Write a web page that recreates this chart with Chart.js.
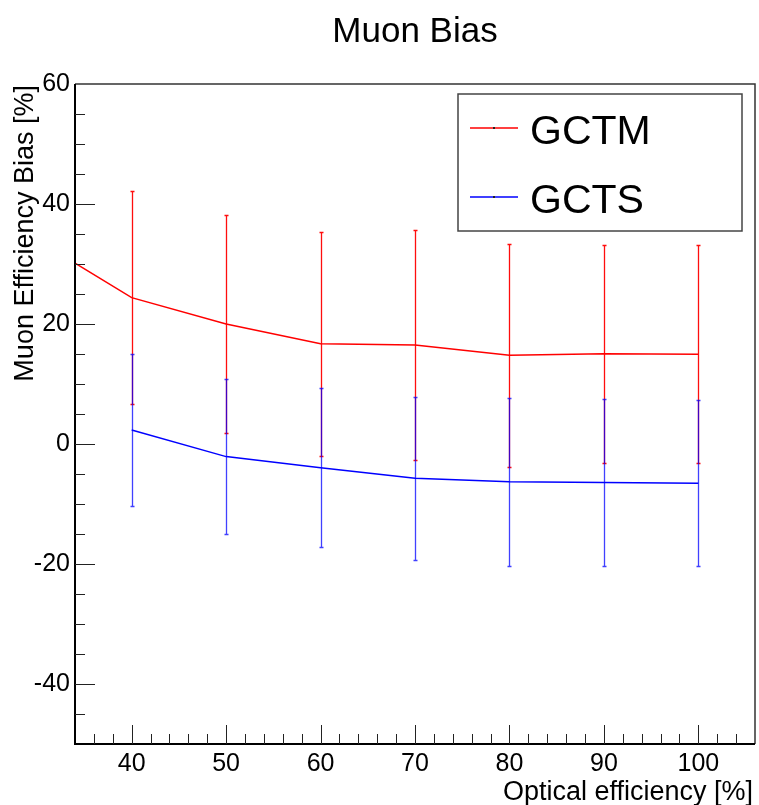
<!DOCTYPE html>
<html lang="en">
<head>
<meta charset="UTF-8">
<title>Muon Bias</title>
<script src="https://cdn.jsdelivr.net/npm/chart.js@4"></script>
<style>
  html, body { margin: 0; padding: 0; background: #fff; }
  canvas { display: block; }
</style>
</head>
<body>
<canvas id="biasChart" width="759" height="805"></canvas>
<script>
// values (bias in %, symmetric errors)
const gctmEff  = [30, 40, 50, 60, 70, 80, 90, 100];
const gctmBias = [34.0, 24.4, 20.0, 16.7, 16.5, 14.8, 15.05, 14.95];
const gctmErr  = [18.0, 17.8, 18.1, 18.7, 19.1, 18.6, 18.2, 18.15];

const gctsEff  = [40, 50, 60, 70, 80, 90, 100];
const gctsBias = [2.33, -2.1, -3.94, -5.7, -6.3, -6.4, -6.55];
const gctsErr  = [12.7, 12.9, 13.3, 13.6, 14.0, 13.9, 13.85];

const xTicks = [40, 50, 60, 70, 80, 90, 100];
const yTicks = [-40, -20, 0, 20, 40, 60];

const FONT = '"Liberation Sans", Arial, Helvetica, sans-serif';

function points(xs, ys, errs) {
    return xs.map((x, i) => ({ x: x, y: ys[i], err: errs[i] }));
}

// ROOT-like frame, inward ticks, error bars, titles and legend box
const rootStyle = {
    id: 'rootStyle',
    beforeDatasetsDraw(chart) {
        const ctx = chart.ctx;
        const a = chart.chartArea;
        const xs = chart.scales.x, ys = chart.scales.y;
        ctx.save();
        ctx.beginPath();
        ctx.rect(a.left, a.top, a.right - a.left, a.bottom - a.top);
        ctx.clip();
        chart.data.datasets.forEach(ds => {
            ctx.strokeStyle = ds.errColor;
            ctx.lineWidth = 1.3;
            ds.data.forEach(p => {
                const px = Math.round(xs.getPixelForValue(p.x)) + 0.5;
                const y1 = Math.round(ys.getPixelForValue(p.y + p.err)) + 0.5;
                const y2 = Math.round(ys.getPixelForValue(p.y - p.err)) + 0.5;
                ctx.beginPath();
                ctx.moveTo(px, y1); ctx.lineTo(px, y2);
                ctx.moveTo(px - 2, y1); ctx.lineTo(px + 2, y1);
                ctx.moveTo(px - 2, y2); ctx.lineTo(px + 2, y2);
                ctx.stroke();
            });
        });
        ctx.restore();
    },
    afterDraw(chart) {
        const ctx = chart.ctx;
        const a = chart.chartArea;
        const xs = chart.scales.x, ys = chart.scales.y;
        ctx.save();

        // frame
        ctx.strokeStyle = '#333';
        ctx.lineWidth = 1.5;
        ctx.beginPath();
        ctx.moveTo(a.left, a.top); ctx.lineTo(a.right, a.top); ctx.lineTo(a.right, a.bottom);
        ctx.stroke();
        ctx.strokeStyle = '#000';
        ctx.lineWidth = 2;
        ctx.beginPath();
        ctx.moveTo(a.left, a.top); ctx.lineTo(a.left, a.bottom); ctx.lineTo(a.right, a.bottom);
        ctx.stroke();

        // inward ticks
        ctx.lineWidth = 1;
        ctx.strokeStyle = '#222';
        ctx.beginPath();
        for (let v = 36; v < 106; v += 2) {
            const px = Math.round(xs.getPixelForValue(v)) + 0.5;
            ctx.moveTo(px, a.bottom);
            ctx.lineTo(px, a.bottom - (v % 10 === 0 ? 19 : 10));
        }
        for (let v = -45; v < 60; v += 5) {
            const py = Math.round(ys.getPixelForValue(v)) + 0.5;
            ctx.moveTo(a.left, py);
            ctx.lineTo(a.left + (v % 20 === 0 ? 20 : 10), py);
        }
        ctx.stroke();

        // titles
        ctx.fillStyle = '#000';
        ctx.font = '35px ' + FONT;
        ctx.textAlign = 'center';
        ctx.textBaseline = 'alphabetic';
        ctx.fillText('Muon Bias', 415, 42);

        ctx.font = '27px ' + FONT;
        ctx.textAlign = 'right';
        ctx.fillText('Optical efficiency [%]', 753, 800);

        ctx.save();
        ctx.translate(33, a.top + 1);
        ctx.rotate(-Math.PI / 2);
        ctx.fillText('Muon Efficiency Bias [%]', 0, 0);
        ctx.restore();

        // legend box
        ctx.fillStyle = '#fff';
        ctx.fillRect(458, 94, 284, 137);
        ctx.strokeStyle = '#444';
        ctx.lineWidth = 1.5;
        ctx.strokeRect(458, 94, 284, 137);
        const rows = [128, 197];
        chart.data.datasets.forEach((ds, i) => {
            const ly = rows[i];
            ctx.strokeStyle = ds.borderColor;
            ctx.lineWidth = 1.5;
            ctx.beginPath();
            ctx.moveTo(470, ly); ctx.lineTo(518, ly);
            ctx.stroke();
            ctx.fillStyle = '#222';
            ctx.fillRect(493, ly - 1, 2, 2);
            ctx.fillStyle = '#000';
            ctx.font = '41px ' + FONT;
            ctx.textAlign = 'left';
            ctx.fillText(ds.label, 530, ly + 16);
        });
        ctx.restore();
    }
};

new Chart(document.getElementById('biasChart'), {
    type: 'line',
    data: {
        datasets: [{
            label: 'GCTM',
            data: points(gctmEff, gctmBias, gctmErr),
            borderColor: '#ff0000',
            errColor: 'rgba(255, 0, 0, 0.95)',
            borderWidth: 1.5,
            pointRadius: 0,
            tension: 0,
            clip: 0
        }, {
            label: 'GCTS',
            data: points(gctsEff, gctsBias, gctsErr),
            borderColor: '#0000ff',
            errColor: 'rgba(0, 0, 255, 0.75)',
            borderWidth: 1.5,
            pointRadius: 0,
            tension: 0,
            clip: 0
        }]
    },
    options: {
        responsive: false,
        animation: false,
        layout: { padding: { top: 84, right: 4, left: 0, bottom: 0 } },
        plugins: {
            legend: { display: false },
            tooltip: { enabled: false }
        },
        scales: {
            x: {
                type: 'linear',
                min: 34,
                max: 106,
                afterBuildTicks: s => { s.ticks = xTicks.map(v => ({ value: v })); },
                afterFit: s => { s.height = 61; },
                grid: { display: false, drawTicks: false },
                border: { display: false },
                ticks: { color: '#000', padding: 5, maxRotation: 0, font: { family: FONT, size: 25 } }
            },
            y: {
                min: -50,
                max: 60,
                afterBuildTicks: s => { s.ticks = yTicks.map(v => ({ value: v })); },
                afterFit: s => { s.width = 75; },
                grid: { display: false, drawTicks: false },
                border: { display: false },
                ticks: { color: '#000', padding: 5, font: { family: FONT, size: 25 } }
            }
        }
    },
    plugins: [rootStyle]
});
</script>
</body>
</html>
